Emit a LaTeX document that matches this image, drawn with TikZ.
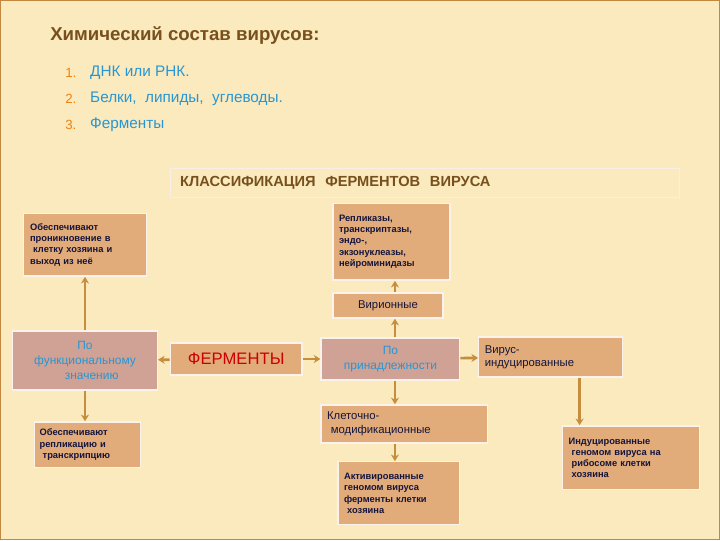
\documentclass[tikz,border=0pt]{standalone}
\usepackage{fontspec}
\setmainfont{Liberation Sans}
\usetikzlibrary{arrows.meta}
\definecolor{bg}{RGB}{250,234,190}
\definecolor{peach}{RGB}{226,172,122}
\definecolor{pinkg}{RGB}{208,162,150}
\definecolor{arr}{RGB}{196,142,62}
\definecolor{navy}{RGB}{20,20,60}
\definecolor{blu}{RGB}{40,150,210}
\definecolor{ttl}{RGB}{120,80,30}
\begin{document}
\begin{tikzpicture}[x=0.75pt,y=-0.75pt,
  box/.style={draw=white!85!peach,line width=1pt,fill=peach,inner sep=2pt,font=\fontsize{7}{8.5}\selectfont\bfseries,text=navy,align=left,anchor=center},
  pbox/.style={box,fill=pinkg,text=blu,align=center,font=\fontsize{9}{11}\selectfont},
  con/.style={draw=arr,line width=2pt,-{Stealth[length=5pt,width=6pt]}}]
\fill[bg] (0,0) rectangle (720,540);
\draw[arr!60!brown,line width=1pt] (0,0) rectangle (720,540);
\node[anchor=west,font=\fontsize{14}{16}\selectfont\bfseries,text=ttl] (t) at (45,35) {Химический состав вирусов:};
\node[anchor=west,font=\fontsize{10}{12}\selectfont,text=orange!80!brown] (n1) at (60,72) {1.};
\node[anchor=west,font=\fontsize{10}{12}\selectfont,text=orange!80!brown] (n2) at (60,98) {2.};
\node[anchor=west,font=\fontsize{10}{12}\selectfont,text=orange!80!brown] (n3) at (60,124) {3.};
\node[anchor=west,font=\fontsize{11.5}{13}\selectfont,text=blu] (l1) at (85,72) {ДНК или РНК.};
\node[anchor=west,font=\fontsize{11.5}{13}\selectfont,text=blu] (l2) at (85,98) {Белки, \ липиды, \ углеводы.};
\node[anchor=west,font=\fontsize{11.5}{13}\selectfont,text=blu] (l3) at (85,124) {Ферменты};
\node[draw=white!80!peach,minimum width=510*0.75pt,minimum height=29*0.75pt,text width=500*0.75pt,align=left,font=\fontsize{11}{12}\selectfont\bfseries,text=ttl] (cl) at (425,182.5) {\ КЛАССИФИКАЦИЯ \ ФЕРМЕНТОВ \ ВИРУСА};
\node[box,minimum width=123*0.75pt,minimum height=63*0.75pt,text width=110*0.75pt] (a) at (84.5,244.5) {Обеспечивают\\проникновение в\\\ клетку хозяина и\\выход из неё};
\node[box,minimum width=117*0.75pt,minimum height=77*0.75pt,text width=105*0.75pt] (r) at (391.5,241.5) {Репликазы,\\транскриптазы,\\эндо-,\\экзонуклеазы,\\нейроминидазы};
\node[box,minimum width=110*0.75pt,minimum height=25*0.75pt,align=center,font=\fontsize{8.5}{10}\selectfont] (v) at (388,305.5) {Вирионные};
\node[pbox,minimum width=145*0.75pt,minimum height=59*0.75pt] (f) at (84.5,360.5) {По\\функциональному\\\ \ \ \ значению};
\node[box,minimum width=132*0.75pt,minimum height=32*0.75pt,align=center,text=red!80!black,font=\fontsize{12.5}{14}\selectfont] (e) at (236,359) {ФЕРМЕНТЫ};
\node[pbox,minimum width=139*0.75pt,minimum height=42*0.75pt] (p) at (390.5,359) {По\\принадлежности};
\node[box,minimum width=144*0.75pt,minimum height=40*0.75pt,text width=132*0.75pt,font=\fontsize{8.5}{10}\selectfont] (vi) at (551,357) {Вирус-\\индуцированные};
\node[box,minimum width=167*0.75pt,minimum height=38*0.75pt,text width=155*0.75pt,font=\fontsize{8.5}{10}\selectfont] (k) at (404.5,424) {Клеточно-\\\ модификационные};
\node[box,minimum width=106*0.75pt,minimum height=46*0.75pt,text width=96*0.75pt] (b) at (87,445) {Обеспечивают\\репликацию и\\\ транскрипцию};
\node[box,minimum width=122*0.75pt,minimum height=63*0.75pt,text width=110*0.75pt] (ak) at (399,493.5) {Активированные\\геномом вируса\\ферменты клетки\\\ хозяина};
\node[box,minimum width=137*0.75pt,minimum height=64*0.75pt,text width=125*0.75pt] (i) at (631.5,458) {Индуцированные\\\ геномом вируса на\\\ рибосоме клетки\\\ хозяина};
\coordinate (x1) at (395,0);
\coordinate (x2) at (580,0);
\draw[con] (f.north) -- (f.north |- a.south);
\draw[con] (f.south) -- (f.south |- b.north);
\draw[con] (e) -- (f);
\draw[con] (e) -- (p);
\draw[con] (x1 |- p.north) -- (x1 |- v.south);
\draw[con] (x1 |- v.north) -- (x1 |- r.south);
\draw[con] (x1 |- p.south) -- (x1 |- k.north);
\draw[con] (x1 |- k.south) -- (x1 |- ak.north);
\draw[con] (p) -- (vi);
\draw[con] (x2 |- vi.south) -- (x2 |- i.north);
\end{tikzpicture}
\end{document}
